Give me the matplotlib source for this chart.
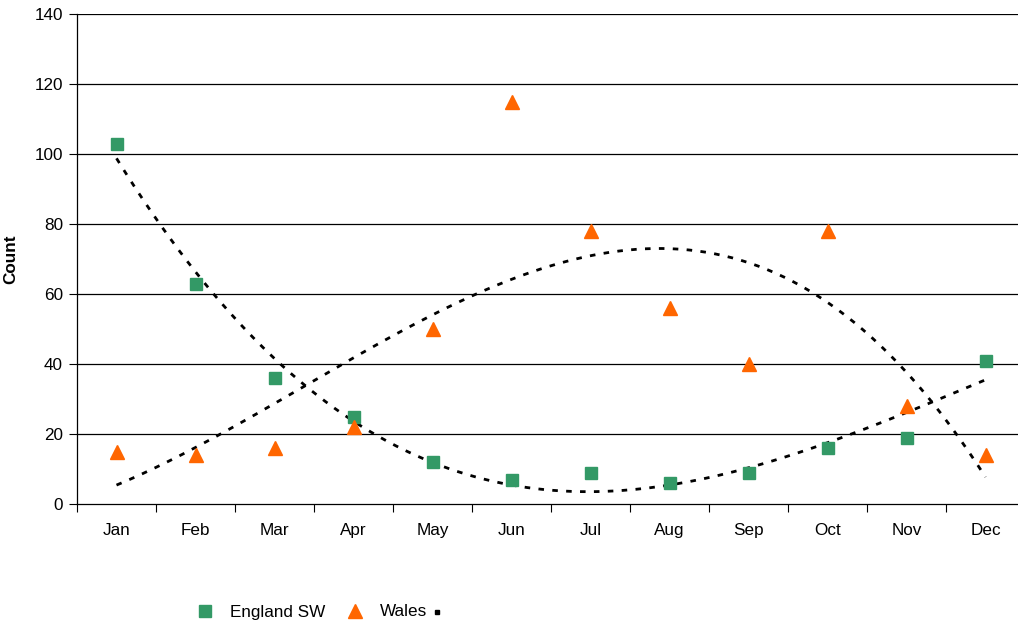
import numpy as np
import matplotlib.pyplot as plt
from matplotlib.lines import Line2D

plt.rcParams['font.family'] = ['Liberation Sans', 'DejaVu Sans']

months = ['Jan', 'Feb', 'Mar', 'Apr', 'May', 'Jun', 'Jul', 'Aug', 'Sep', 'Oct', 'Nov', 'Dec']
england_sw = [103, 63, 36, 25, 12, 7, 9, 6, 9, 16, 19, 41]
wales = [15, 14, 16, 22, 50, 115, 78, 56, 40, 78, 28, 14]

x = np.arange(len(months))

# polynomial trendlines like the spreadsheet ones
xs = np.linspace(0, len(months) - 1, 200)
trend_eng = np.polyval(np.polyfit(x, england_sw, 3), xs)
trend_wal = np.polyval(np.polyfit(x, wales, 3), xs)

fs = 12.3
fig = plt.figure(figsize=(10.18, 6.25), dpi=100)
ax = fig.add_axes([77/1018, 121/625, 948/1018, 490/625])

for y in range(20, 141, 20):
    ax.axhline(y, color='black', lw=0.9, zorder=0)

ax.plot(xs, trend_eng, color='black', lw=2, ls=(0, (2, 3)), zorder=2)
ax.plot(xs, trend_wal, color='black', lw=2, ls=(0, (2, 3)), zorder=2)

ax.plot(x, england_sw, 's', color='#339966', ms=9, mec='#339966', zorder=3)
ax.plot(x, wales, '^', color='#ff6600', ms=10, mec='#ff6600', zorder=3)

ax.set_xlim(-0.5, len(months) - 0.5)
ax.set_ylim(0, 140)
ax.set_yticks(range(0, 141, 20))
ax.set_xticks(np.arange(-0.5, len(months), 1))
ax.set_xticklabels([])
ax.set_xticks(x, minor=True)
ax.set_xticklabels(months, minor=True)
ax.tick_params(axis='x', which='minor', length=0, pad=14, labelsize=fs)
ax.tick_params(axis='x', which='major', length=6, direction='out')
ax.tick_params(axis='y', length=6, direction='out', labelsize=fs, pad=4)

for s in ['top', 'right']:
    ax.spines[s].set_visible(False)
ax.spines['left'].set_linewidth(0.9)
ax.spines['bottom'].set_linewidth(0.9)

ax.set_ylabel('Count', fontweight='bold', fontsize=fs, labelpad=12)

handles = [
    Line2D([], [], marker='s', ls='none', color='#339966', ms=9),
    Line2D([], [], marker='^', ls='none', color='#ff6600', ms=10),
]
fig.legend(handles, ['England SW', 'Wales'], loc='center', bbox_to_anchor=(313/1018, 1 - 612/625),
           ncol=2, frameon=False, fontsize=fs, handlelength=0.8, handletextpad=1.05,
           columnspacing=1.36)
# trendline legend key (drawn as a tiny dot in the original)
fig.add_artist(Line2D([437/1018], [1 - 612/625], marker='s', ls='none', color='black', ms=2.2,
                      transform=fig.transFigure))

fig.savefig('out.png', dpi=100)
